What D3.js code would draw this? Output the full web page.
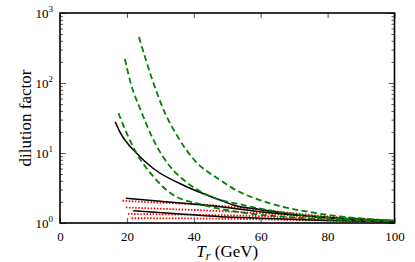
<!DOCTYPE html>
<html>
<head>
<meta charset="utf-8">
<script src="https://cdn.jsdelivr.net/npm/d3@7"></script>
<style>
  body { margin: 0; background: #fff; }
  svg text { font-family: "Liberation Serif", "DejaVu Serif", serif; }
</style>
</head>
<body>
<svg id="chart" width="415" height="262"></svg>
<script>
// values (T_r in GeV, dilution factor)
var xTicks = [0, 20, 40, 60, 80, 100];
var yTicks = [1, 10, 100, 1000];

var green1T = [23.6, 27.5, 30.9, 34.9, 39.9, 47.9, 51.8, 62.8, 76.8, 100];
var green1D = [454, 115, 42, 18, 8.2, 4.1, 3.1, 1.91, 1.38, 1.08];
var green2T = [19.4, 20.9, 24.4, 27.9, 32.9, 37.9, 44.9, 53.8, 65, 80, 100];
var green2D = [220, 110, 38, 15.5, 6.4, 3.8, 2.4, 1.85, 1.45, 1.2, 1.06];
var green3T = [17.5, 17.9, 22.9, 27.9, 32.9, 42.8, 55, 70, 100];
var green3D = [37, 33, 9.9, 4.6, 2.7, 1.81, 1.4, 1.2, 1.04];

var black1T = [16.5, 17.9, 22.9, 27.9, 37.9, 47.9, 51.8, 60, 75, 100];
var black1D = [28, 20, 9.9, 6.0, 3.3, 2.13, 1.81, 1.55, 1.25, 1.08];
var black2T = [19.7, 30, 48, 60, 80, 100];
var black2D = [2.25, 2.05, 1.71, 1.45, 1.2, 1.07];
var black3T = [21.9, 35, 48, 60, 80, 100];
var black3D = [1.5, 1.36, 1.23, 1.17, 1.09, 1.04];

var red1T = [18.7, 30, 45, 60, 75, 100];
var red1D = [2.08, 1.95, 1.8, 1.55, 1.3, 1.08];
var red2T = [19.7, 30, 45, 60, 75, 100];
var red2D = [1.67, 1.6, 1.5, 1.38, 1.22, 1.06];
var red3T = [20.3, 30, 45, 60, 75, 100];
var red3D = [1.35, 1.33, 1.3, 1.25, 1.15, 1.05];
var red4T = [21.4, 40, 60, 80, 100];
var red4D = [1.17, 1.16, 1.13, 1.08, 1.04];

var margin = {top: 13, right: 20.5, bottom: 39, left: 60};
var width = 415 - margin.left - margin.right;
var height = 262 - margin.top - margin.bottom;

var svg = d3.select('#chart');
var g = svg.append('g').attr('transform', 'translate(' + margin.left + ',' + margin.top + ')');

var x = d3.scaleLinear().domain([0, 100]).range([0, width]);
var y = d3.scaleLog().domain([1, 1000]).range([height, 0]);

g.append('clipPath').attr('id', 'clip')
  .append('rect').attr('width', width).attr('height', height);

var line = d3.line()
  .x(function(d) { return x(d[0]); })
  .y(function(d) { return y(d[1]); })
  .curve(d3.curveMonotoneX);

function pairs(ts, ds) { return ts.map(function(t, i) { return [t, ds[i]]; }); }

var series = [
  {pts: pairs(red1T, red1D), color: '#ff0000', dash: '1.5,1.6', w: 1.8},
  {pts: pairs(red2T, red2D), color: '#ff0000', dash: '1.5,1.6', w: 1.8},
  {pts: pairs(red3T, red3D), color: '#ff0000', dash: '1.5,1.6', w: 1.8},
  {pts: pairs(red4T, red4D), color: '#ff0000', dash: '1.5,1.6', w: 1.8},
  {pts: pairs(black1T, black1D), color: '#000', dash: null, w: 1.5},
  {pts: pairs(black2T, black2D), color: '#000', dash: null, w: 1.5},
  {pts: pairs(black3T, black3D), color: '#000', dash: null, w: 1.5},
  {pts: pairs(green1T, green1D), color: '#008000', dash: '6,3.5', w: 1.8},
  {pts: pairs(green2T, green2D), color: '#008000', dash: '6,3.5', w: 1.8},
  {pts: pairs(green3T, green3D), color: '#008000', dash: '6,3.5', w: 1.8}
];

var plot = g.append('g').attr('clip-path', 'url(#clip)');
series.forEach(function(s) {
  plot.append('path')
    .attr('d', line(s.pts))
    .attr('fill', 'none')
    .attr('stroke', s.color)
    .attr('stroke-width', s.w)
    .attr('stroke-dasharray', s.dash);
});

// ticks, pointing inward on all four sides
var minor = [];
[1, 10, 100].forEach(function(dec) {
  for (var k = 2; k <= 9; k++) minor.push(dec * k);
});

function styleAxis(sel) {
  sel.select('.domain').remove();
  sel.selectAll('.tick line').attr('stroke', '#555').attr('stroke-width', 1);
  sel.selectAll('.tick text').attr('fill', '#000').attr('font-size', 13);
}

g.append('g').attr('transform', 'translate(0,' + height + ')')
  .call(d3.axisBottom(x).tickValues(xTicks).tickSize(-5).tickPadding(9).tickFormat(d3.format('d')))
  .call(styleAxis);
g.append('g')
  .call(d3.axisTop(x).tickValues(xTicks).tickSize(-5).tickFormat(''))
  .call(styleAxis);

var yAxis = g.append('g')
  .call(d3.axisLeft(y).tickValues(yTicks).tickSize(-6).tickPadding(7).tickFormat(''))
  .call(styleAxis);
yAxis.selectAll('.tick').append('text')
  .attr('x', -7).attr('y', 4)
  .attr('fill', '#000')
  .attr('text-anchor', 'end')
  .attr('font-size', 13)
  .each(function(d) {
    var t = d3.select(this);
    t.append('tspan').text('10');
    t.append('tspan').attr('font-size', 9).attr('dy', -6).text(Math.round(Math.log10(d)));
  });
g.append('g')
  .call(d3.axisLeft(y).tickValues(minor).tickSize(-3).tickFormat(''))
  .call(styleAxis);
g.append('g').attr('transform', 'translate(' + width + ',0)')
  .call(d3.axisRight(y).tickValues(yTicks).tickSize(-6).tickFormat(''))
  .call(styleAxis);
g.append('g').attr('transform', 'translate(' + width + ',0)')
  .call(d3.axisRight(y).tickValues(minor).tickSize(-3).tickFormat(''))
  .call(styleAxis);

// frame
g.append('rect')
  .attr('width', width).attr('height', height)
  .attr('fill', 'none').attr('stroke', '#000').attr('stroke-width', 1.6);

// labels
var xl = svg.append('text')
  .attr('x', margin.left + width / 2).attr('y', 257)
  .attr('text-anchor', 'middle').attr('font-size', 17);
xl.append('tspan').attr('font-style', 'italic').text('T');
xl.append('tspan').attr('font-style', 'italic').attr('font-size', 12).attr('dy', 3).text('r');
xl.append('tspan').attr('dy', -3).text(' (GeV)');

svg.append('text')
  .attr('transform', 'translate(31,' + (margin.top + height / 2) + ') rotate(-90)')
  .attr('text-anchor', 'middle').attr('font-size', 17)
  .text('dilution factor');
</script>
</body>
</html>
